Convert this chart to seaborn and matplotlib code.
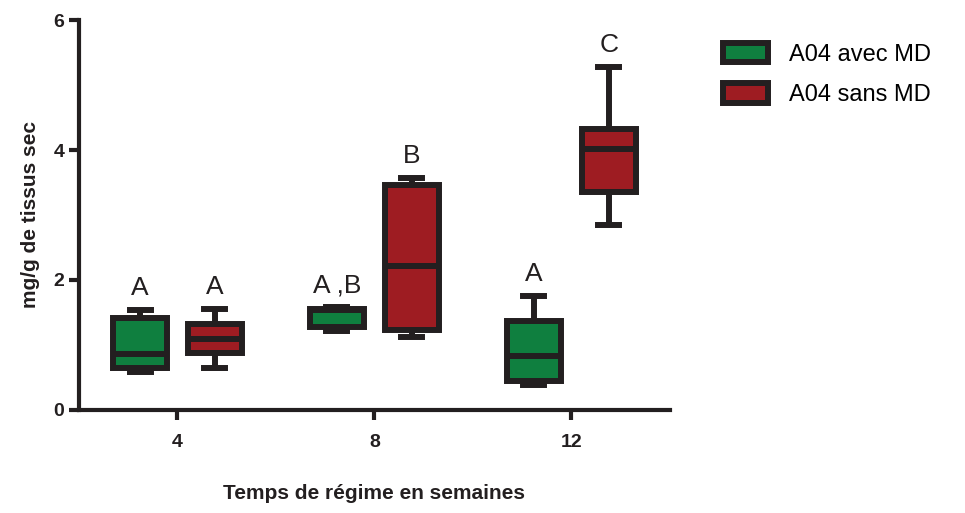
import pandas as pd
import numpy as np
import matplotlib.pyplot as plt
import matplotlib.patches as mpatches
import seaborn as sns

# semaines de regime et les deux groupes
semaines = ['4', '8', '12']
groupes = ['A04 avec MD', 'A04 sans MD']

# min, Q1, mediane, Q3, max (mg/g de tissus sec)
avec_md = [[0.59, 0.65, 0.86, 1.42, 1.54],
           [1.22, 1.27, 1.54, 1.55, 1.58],
           [0.38, 0.44, 0.83, 1.37, 1.76]]
sans_md = [[0.65, 0.87, 1.09, 1.33, 1.55],
           [1.12, 1.23, 2.22, 3.46, 3.57],
           [2.84, 3.36, 4.01, 4.32, 5.28]]

# lettres de significativite
lettres_avec = ['A', 'A ,B', 'A']
lettres_sans = ['A', 'B', 'C']

couleurs = ['#0f7f3f', '#9e1c22']
noir = '#231f20'

rows = []
for i, s in enumerate(semaines):
    for v in avec_md[i]:
        rows.append((s, groupes[0], v))
    for v in sans_md[i]:
        rows.append((s, groupes[1], v))
df = pd.DataFrame(rows, columns=['semaine', 'groupe', 'valeur'])

plt.rcParams['font.family'] = ['Liberation Sans', 'DejaVu Sans']

fig = plt.figure(figsize=(9.65, 5.13), dpi=100)
ax = fig.add_axes([0.0819, 0.2008, 0.6121, 0.7602])

sns.boxplot(data=df, x='semaine', y='valeur', hue='groupe',
            order=semaines, hue_order=groupes, palette=couleurs,
            whis=(0, 100), width=0.76, gap=0.28, saturation=1,
            linewidth=4.3, linecolor=noir, fliersize=0, legend=False, ax=ax)

# caps un peu plus courts, comme dans Prism
for cont in ax.containers:
    for cap in getattr(cont, 'caps', []):
        xd = np.asarray(cap.get_xdata(), dtype=float)
        m = xd.mean()
        cap.set_xdata(m + (xd - m) * 0.78)

# lettres au-dessus des boites
off = 0.19
for i in range(len(semaines)):
    ax.text(i - off, max(avec_md[i]) + 0.15, lettres_avec[i], ha='center',
            va='bottom', fontsize=19, color=noir)
    ax.text(i + off, max(sans_md[i]) + 0.15, lettres_sans[i], ha='center',
            va='bottom', fontsize=19, color=noir)

ax.set_xlim(-0.5, 2.5)
ax.set_ylim(0, 6)
ax.set_yticks([0, 2, 4, 6])
for s in ['top', 'right']:
    ax.spines[s].set_visible(False)
for s in ['left', 'bottom']:
    ax.spines[s].set_linewidth(3)
    ax.spines[s].set_color(noir)
ax.tick_params(axis='both', width=3, length=7, color=noir,
               labelsize=14, labelcolor=noir)
for lab in ax.get_xticklabels() + ax.get_yticklabels():
    lab.set_fontweight('bold')
ax.tick_params(axis='x', pad=10)

ax.set_xlabel('Temps de régime en semaines', fontsize=15, fontweight='bold',
              labelpad=24, color=noir)
ax.set_ylabel('mg/g de tissus sec', fontsize=15, fontweight='bold',
              labelpad=10, color=noir)

handles = [mpatches.Patch(facecolor=c, edgecolor=noir, linewidth=4.3, label=g)
           for c, g in zip(couleurs, groupes)]
fig.legend(handles=handles, loc='upper left', bbox_to_anchor=(0.737, 0.94),
           frameon=False, fontsize=17, handlelength=1.9, handleheight=0.9,
           handletextpad=0.9, labelspacing=0.75, borderpad=0)

plt.savefig('out.png', dpi=100)
